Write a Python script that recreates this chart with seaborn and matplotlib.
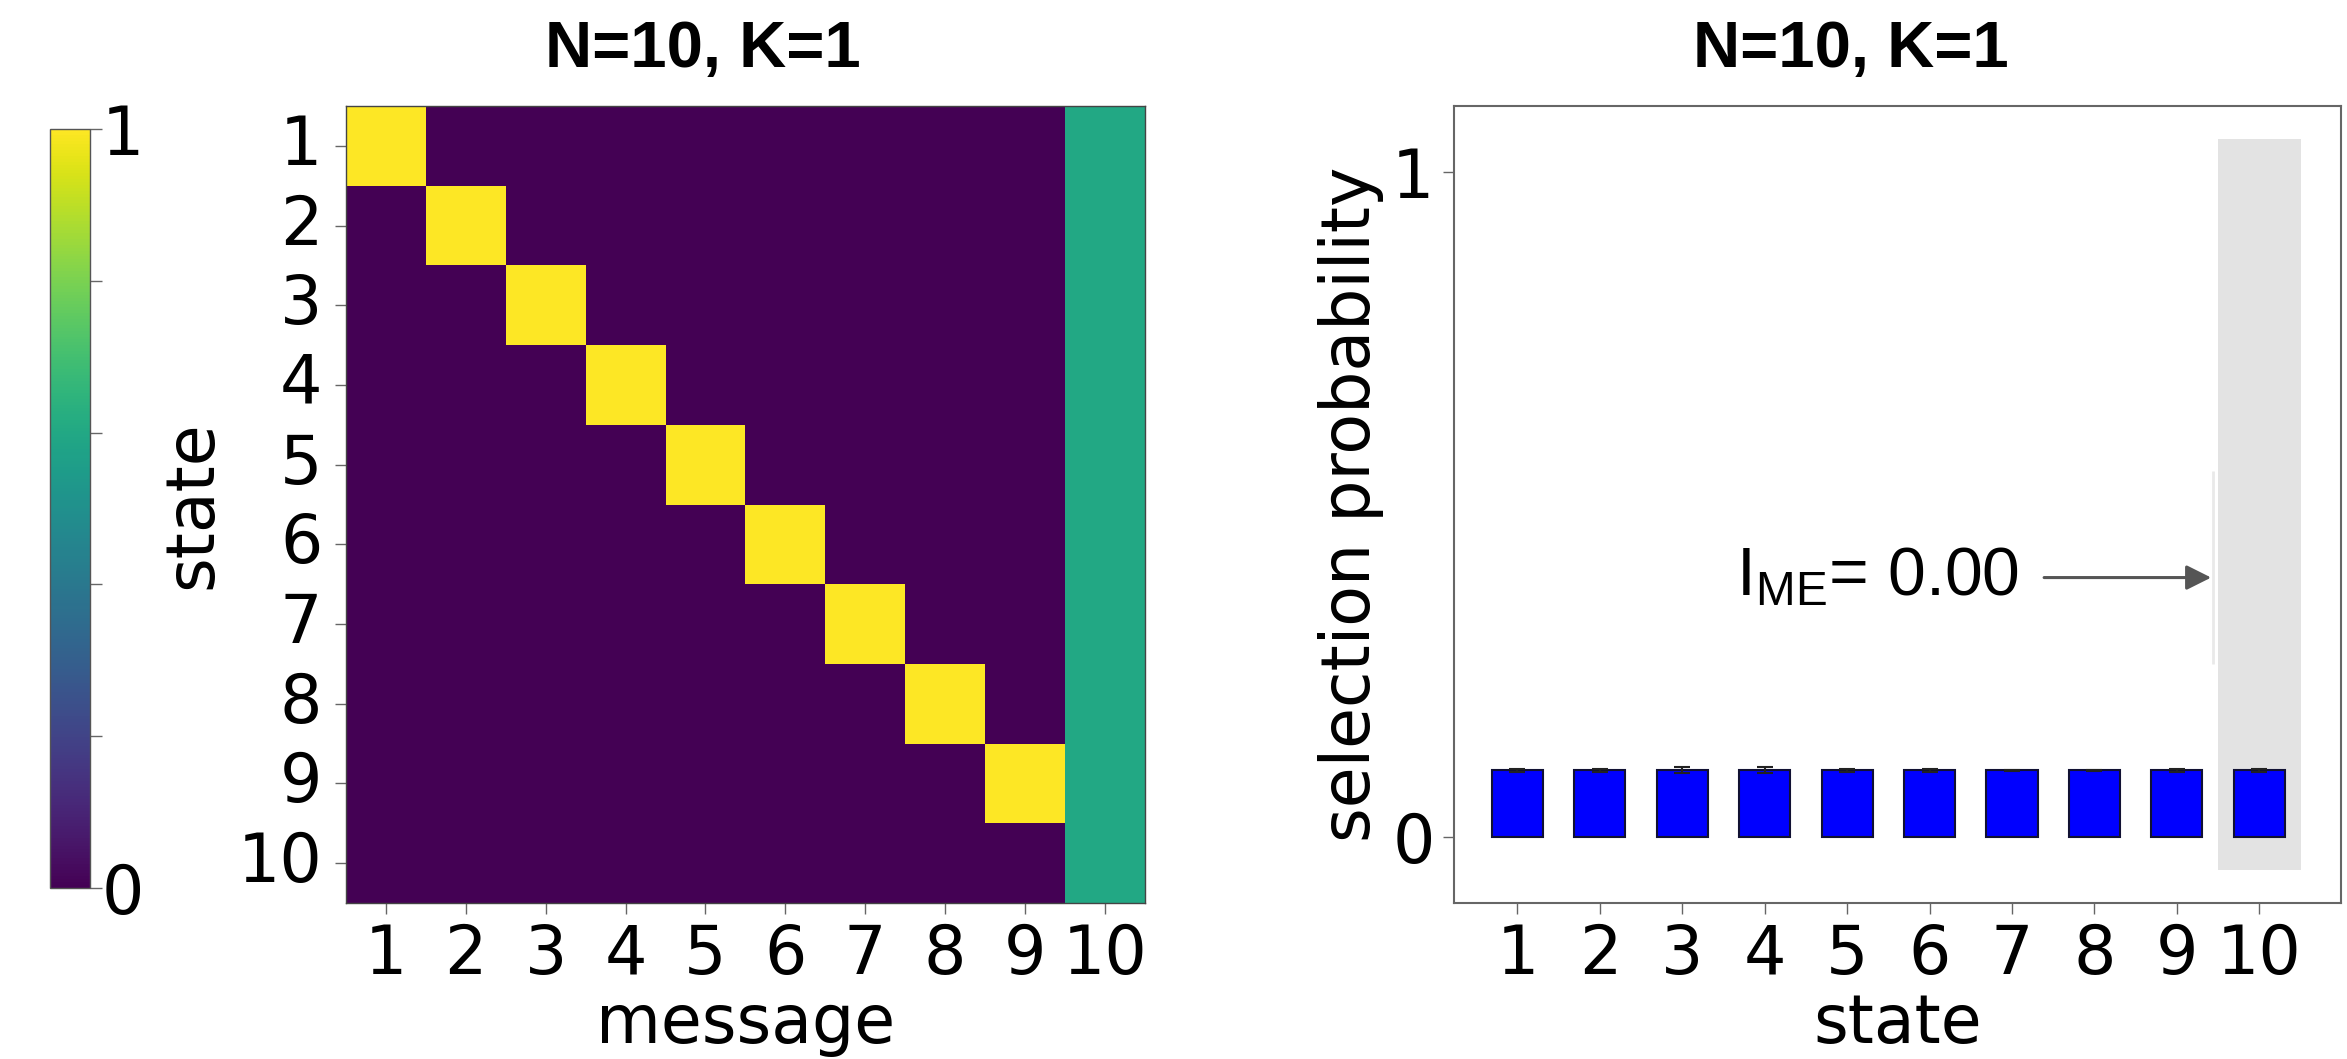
import numpy as np
import pandas as pd
import matplotlib
matplotlib.use("Agg")
import matplotlib.pyplot as plt
from matplotlib.patches import Rectangle
import seaborn as sns

# ---- data ---------------------------------------------------------------
states = ["1", "2", "3", "4", "5", "6", "7", "8", "9", "10"]
messages = ["1", "2", "3", "4", "5", "6", "7", "8", "9", "10"]

# speaker matrix: rows = states, columns = messages
row_1 = [1, 0, 0, 0, 0, 0, 0, 0, 0, 0.6]
row_2 = [0, 1, 0, 0, 0, 0, 0, 0, 0, 0.6]
row_3 = [0, 0, 1, 0, 0, 0, 0, 0, 0, 0.6]
row_4 = [0, 0, 0, 1, 0, 0, 0, 0, 0, 0.6]
row_5 = [0, 0, 0, 0, 1, 0, 0, 0, 0, 0.6]
row_6 = [0, 0, 0, 0, 0, 1, 0, 0, 0, 0.6]
row_7 = [0, 0, 0, 0, 0, 0, 1, 0, 0, 0.6]
row_8 = [0, 0, 0, 0, 0, 0, 0, 1, 0, 0.6]
row_9 = [0, 0, 0, 0, 0, 0, 0, 0, 1, 0.6]
row_10 = [0, 0, 0, 0, 0, 0, 0, 0, 0, 0.6]

# listener selection probability for the novel message
sel_prob = [0.100, 0.100, 0.100, 0.100, 0.100, 0.100, 0.100, 0.100, 0.100, 0.100]
sel_err = [0.002, 0.002, 0.005, 0.005, 0.002, 0.002, 0.001, 0.001, 0.002, 0.002]

me_index = 0.00
panel_title = "N=10, K=1"
cbar_ticks = [0, 0.2, 0.4, 0.6, 0.8, 1.0]
cbar_ticklabels = ["0", "", "", "", "", "1"]

# ---- style --------------------------------------------------------------
sns.set_theme(style="white")
plt.rcParams["font.family"] = ["DejaVu Sans"]
plt.rcParams["text.color"] = "black"
plt.rcParams["axes.labelcolor"] = "black"
plt.rcParams["mathtext.fontset"] = "custom"
plt.rcParams["mathtext.rm"] = "Liberation Sans"
plt.rcParams["mathtext.it"] = "Liberation Sans"

FS = 48
TITLE_FONT = dict(family="Liberation Sans", weight="bold", size=47,
                  color="black")
TITLE_X = 0.447
SPINE = "#666666"

matrix = pd.DataFrame(
    [row_1, row_2, row_3, row_4, row_5, row_6, row_7, row_8, row_9, row_10],
    index=states, columns=messages)

fig = plt.figure(figsize=(23.47, 10.59), dpi=100)
cax = fig.add_axes([0.0213, 0.1615, 0.0170, 0.7167])
ax1 = fig.add_axes([0.1474, 0.1473, 0.3404, 0.7526])
ax2 = fig.add_axes([0.6195, 0.1473, 0.3779, 0.7526])

# ---- left: speaker heatmap ------------------------------------------------
sns.heatmap(matrix, ax=ax1, cmap="viridis", vmin=0, vmax=1,
            cbar_ax=cax, linewidths=0,
            cbar_kws=dict(ticks=cbar_ticks))
for s in ax1.spines.values():
    s.set_visible(True)
    s.set_color("#444444")
    s.set_linewidth(1.0)
ax1.tick_params(axis="both", which="both", bottom=True, left=True,
                length=8, width=1, color=SPINE, labelcolor="black",
                labelsize=FS, pad=6)
ax1.tick_params(axis="y", pad=9)
ax1.set_xticklabels(messages, rotation=0)
ax1.set_yticklabels(states, rotation=0)
ax1.set_xlabel("message", fontsize=FS, labelpad=2)
ax1.set_ylabel("state", fontsize=FS, labelpad=9)
ax1.set_title(panel_title, pad=28, x=TITLE_X, **TITLE_FONT)

cax.set_yticks(cbar_ticks)
cax.set_yticklabels(cbar_ticklabels)
cax.tick_params(axis="y", right=True, length=8.5, width=1, color=SPINE,
                labelcolor="black", labelsize=FS, pad=0)
cax.yaxis.set_ticks_position("right")
cbar = ax1.collections[0].colorbar
cbar.outline.set_visible(True)
cbar.outline.set_edgecolor("#555555")
cbar.outline.set_linewidth(1.0)

# ---- right: listener selection probabilities -----------------------------
novel = len(states) - 1
sns.barplot(x=states, y=sel_prob, ax=ax2, color="#0000ff", saturation=1,
            width=0.62, edgecolor="#111133", linewidth=1.5, errorbar=None,
            zorder=2)
bars = ax2.containers[0]
centers = [p.get_x() + p.get_width() / 2 for p in bars]
ax2.errorbar(centers, sel_prob, yerr=sel_err, fmt="none", ecolor="#222222",
             elinewidth=1.5, capsize=6, capthick=1.5, zorder=3)

# shaded column behind the novel state
ax2.add_patch(Rectangle((novel - 0.5, -0.05), 1.0, 1.10,
                        facecolor="#e3e3e3", edgecolor="none", zorder=0))

ax2.set_xlim(-0.77, 9.99)
ax2.set_ylim(-0.1, 1.1)
ax2.set_yticks([0, 1])
ax2.set_yticklabels(["0", "1"])
for s in ax2.spines.values():
    s.set_visible(True)
    s.set_color(SPINE)
    s.set_linewidth(1.5)
ax2.tick_params(axis="both", bottom=True, left=True, length=8, width=1,
                color=SPINE, labelcolor="black", labelsize=FS, pad=6)
ax2.set_xlabel("state", fontsize=FS, labelpad=2)
ax2.set_ylabel("selection probability", fontsize=FS, labelpad=6)
ax2.set_title(panel_title, pad=28, x=TITLE_X, **TITLE_FONT)

# faint guide at the novel state's edge and the ME-index annotation
ax2.vlines(novel - 0.56, 0.26, 0.55, color="#e9e9e9", linewidth=2, zorder=1)
ax2.annotate(r"I$_{\mathrm{ME}}$= " + f"{me_index:.2f}",
             xy=(novel - 0.5, 0.39), xytext=(6.08, 0.39),
             ha="right", va="center", fontsize=49,
             family="Liberation Sans",
             arrowprops=dict(arrowstyle="-|>", color="#555555", lw=2.2,
                             mutation_scale=38, shrinkA=16, shrinkB=5))

fig.savefig("out.png", dpi=100, facecolor="white")
